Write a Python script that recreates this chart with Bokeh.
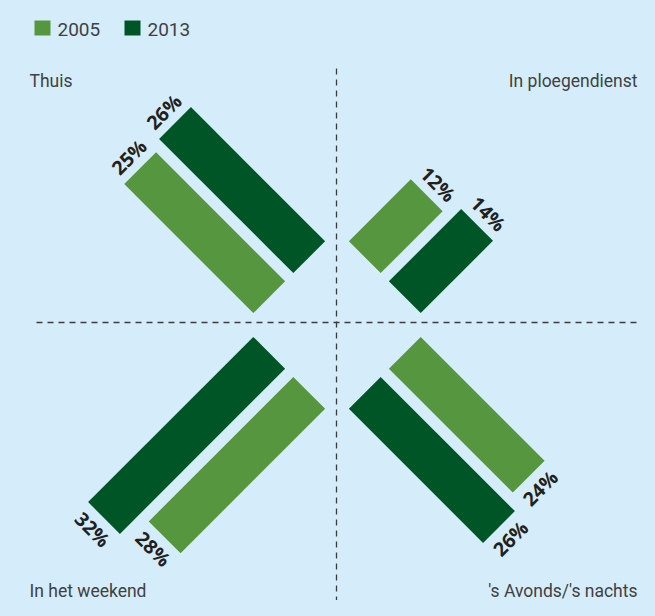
import math
from bokeh.plotting import figure
from bokeh.models import Range1d
from bokeh.embed import file_html
from bokeh.resources import INLINE
from bokeh.core.properties import value

# ---------------- data ----------------
categories = ["Thuis", "In ploegendienst", "In het weekend", "'s Avonds/'s nachts"]
series = ["2005", "2013"]
values_2005 = [25, 12, 28, 24]
values_2013 = [26, 14, 32, 26]

# ---------------- style / layout ----------------
BG = "#d5edfa"
LIGHT = "#56963e"
DARK = "#005526"
TXT = "#414042"
LBL = "#231f20"
H = 616
FW, FH = 639, 600

def Y(y):
    return H - y

# quadrant direction (data coords, y up): up-left, up-right, down-left, down-right
dirs = [(-1, 1), (1, 1), (-1, -1), (1, -1)]
center = (336.5, Y(324.5))
a0 = 67.6      # gap from centre to bar start
scale = 7.3    # px per percent
off = 28.3     # perpendicular offset of each bar
bw = 45        # bar thickness

p = figure(width=FW, height=FH,
           x_range=Range1d(0, FW), y_range=Range1d(H - FH, H),
           output_backend="svg", toolbar_location=None, min_border=0,
           x_axis_location=None, y_axis_location=None)
p.grid.visible = False
p.outline_line_color = None
p.background_fill_color = BG
p.border_fill_color = BG

# dashed cross
p.segment(x0=[36, 336], y0=[Y(322), Y(68)], x1=[637, 336], y1=[Y(322), Y(616)],
          line_color="#3c3c3c", line_width=1.3, line_dash="6 5")

# bars and labels
for vals, sgn, color in [(values_2005, 1, LIGHT), (values_2013, -1, DARK)]:
    xs, ys, ws, angs = [], [], [], []
    tx, ty, tt, ta = [], [], [], []
    for (dx, dy), v in zip(dirs, vals):
        n = math.hypot(dx, dy)
        ux, uy = dx / n, dy / n
        px, py = -uy, ux
        L = v * scale
        xs.append(center[0] + (a0 + L / 2) * ux + sgn * off * px)
        ys.append(center[1] + (a0 + L / 2) * uy + sgn * off * py)
        ws.append(L)
        angs.append(math.atan2(uy, ux))
        tx.append(center[0] + (a0 + L + 16) * ux + sgn * off * px)
        ty.append(center[1] + (a0 + L + 16) * uy + sgn * off * py)
        tt.append(f"{v}%")
        ta.append(math.radians(-45 if dx * dy > 0 else 45))
    p.rect(x=xs, y=ys, width=ws, height=bw, angle=angs, fill_color=color, line_color=None)
    p.text(x=tx, y=ty, text=tt, angle=ta, text_font=value("Open Sans"),
           text_font_style="bold", text_font_size="19.5px", text_color=LBL,
           text_align="center", text_baseline="middle")

# legend
p.rect(x=[42, 132], y=[Y(27.5), Y(27.5)], width=16, height=15,
       fill_color=[LIGHT, DARK], line_color=None)
p.text(x=[57, 147], y=[Y(28.5), Y(28.5)], text=series,
       text_font=value("Roboto"), text_font_size="19px",
       text_color=TXT, text_align="left", text_baseline="middle")

# quadrant names
p.text(x=[29, 637, 29, 637], y=[Y(80), Y(80), Y(590), Y(590)], text=categories,
       text_font=value("Roboto"), text_font_size="17.5px",
       text_color=TXT, text_align=["left", "right", "left", "right"],
       text_baseline="middle")

html = file_html(p, INLINE, title="chart")
html = html.replace("</head>", "<style>html, body { background-color: %s; }</style>\n</head>" % BG, 1)
open("out.html", "w").write(html)
